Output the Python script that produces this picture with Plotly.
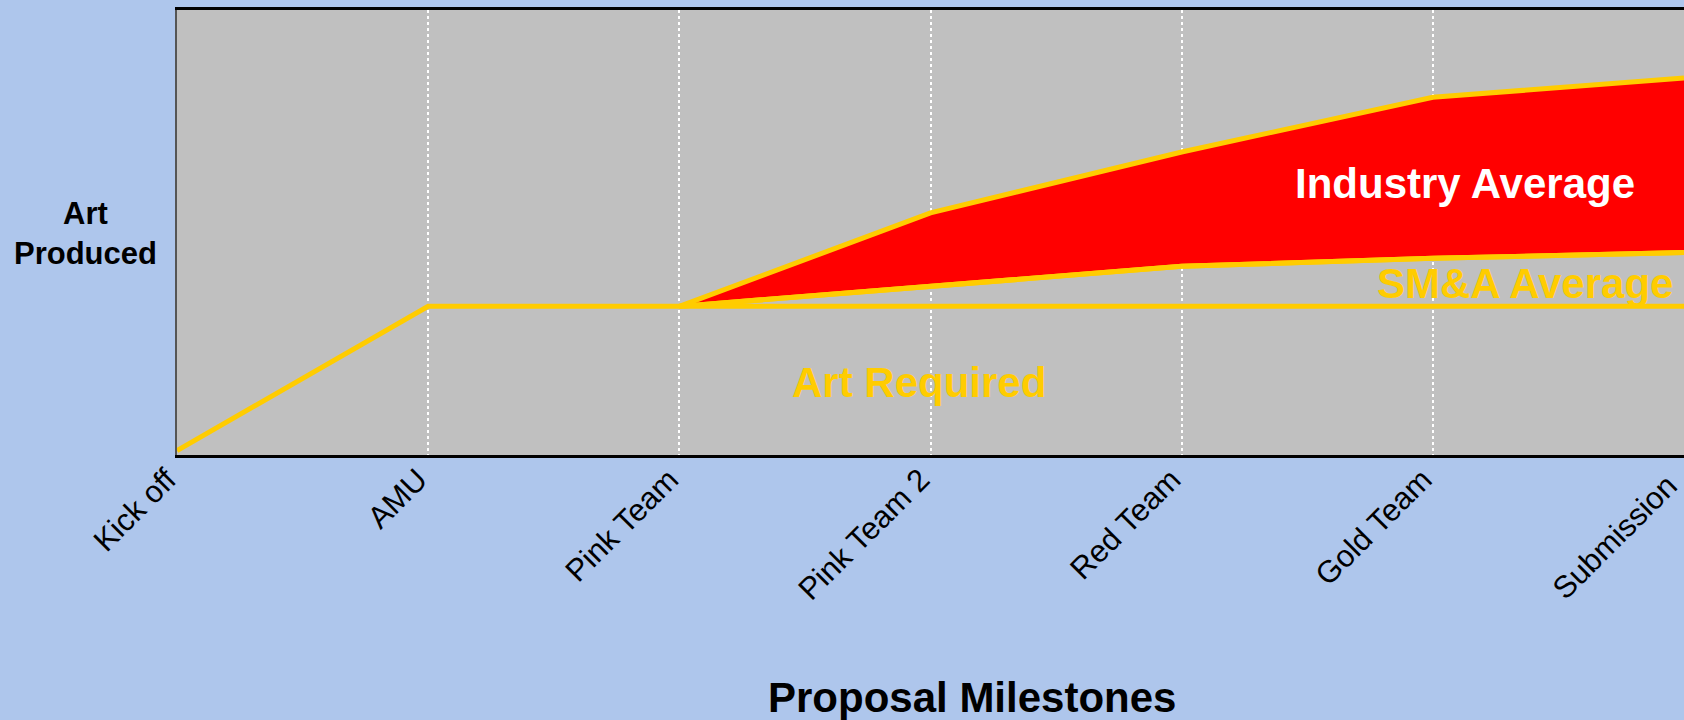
import plotly.graph_objects as go

milestones = ["Kick off", "AMU", "Pink Team", "Pink Team 2", "Red Team", "Gold Team", "Submission"]
art_required = [1.0, 33.4, 33.4, 33.4, 33.4, 33.4, 33.4]
sma_average = [None, None, 33.4, 38.0, 42.4, 44.2, 45.5]
industry_average = [None, None, 33.4, 54.4, 68.1, 80.4, 84.7]

YELLOW = "#FFCC00"
RED = "#FF0000"
FONT = "Arial, Liberation Sans, sans-serif"

def pairs(xs, ys):
    px = [x for x, y in zip(xs, ys) if y is not None]
    py = [y for y in ys if y is not None]
    return px, py

# last label is padded with a no-break space so it stays inside the page edge
tick_text = milestones[:-1] + [milestones[-1] + "\u00a0"]

fig = go.Figure()

sx, sy = pairs(milestones, sma_average)
ix, iy = pairs(milestones, industry_average)

fig.add_trace(go.Scatter(x=sx, y=sy, mode="lines", line=dict(color=YELLOW, width=5),
                         showlegend=False, hoverinfo="skip"))
fig.add_trace(go.Scatter(x=ix, y=iy, mode="lines", line=dict(color=YELLOW, width=5),
                         fill="tonexty", fillcolor=RED, showlegend=False, hoverinfo="skip"))
fig.add_trace(go.Scatter(x=milestones, y=art_required, mode="lines",
                         line=dict(color=YELLOW, width=5), showlegend=False, hoverinfo="skip"))
fig.add_trace(go.Scatter(x=sx, y=sy, mode="lines", line=dict(color=YELLOW, width=5),
                         showlegend=False, hoverinfo="skip"))

fig.add_annotation(x=5.127, y=61.1, xref="x", yref="y", text="<b>Industry Average</b>",
                   showarrow=False, font=dict(family=FONT, size=42, color="white"))
fig.add_annotation(x=5.366, y=38.6, xref="x", yref="y", text="<b>SM&A Average</b>",
                   showarrow=False, font=dict(family=FONT, size=42, color=YELLOW))
fig.add_annotation(x=2.954, y=16.2, xref="x", yref="y", text="<b>Art Required</b>",
                   showarrow=False, font=dict(family=FONT, size=42, color=YELLOW))

fig.add_annotation(x=-0.061, y=0.497, xref="paper", yref="paper", text="<b>Art<br>Produced</b>",
                   showarrow=False, font=dict(family=FONT, size=31, color="black"),
                   xanchor="center", yanchor="middle")
fig.add_annotation(x=0.5275, y=-0.545, xref="paper", yref="paper", text="<b>Proposal Milestones</b>",
                   showarrow=False, font=dict(family=FONT, size=42, color="black"),
                   xanchor="center", yanchor="middle")

fig.update_layout(
    width=1684, height=720,
    margin=dict(l=177, r=0, t=10, b=265),
    paper_bgcolor="#AEC6EC",
    plot_bgcolor="#C0C0C0",
    showlegend=False,
    xaxis=dict(
        type="category", categoryorder="array", categoryarray=milestones,
        tickmode="array", tickvals=milestones, ticktext=tick_text,
        range=[0, 6], automargin=False,
        showgrid=True, gridcolor="white", griddash="dot", gridwidth=2,
        showline=True, linecolor="black", linewidth=3, mirror=True,
        ticks="", ticklabelshift=-10, ticklabelstandoff=-9,
        tickangle=-45, tickfont=dict(family=FONT, size=31, color="black"),
        zeroline=False,
    ),
    yaxis=dict(
        range=[0, 100], automargin=False,
        showgrid=False, zeroline=False, showticklabels=False,
        showline=True, linecolor="#555555", linewidth=2, mirror=False,
        ticks="",
    ),
)

fig.write_html("out.html")
